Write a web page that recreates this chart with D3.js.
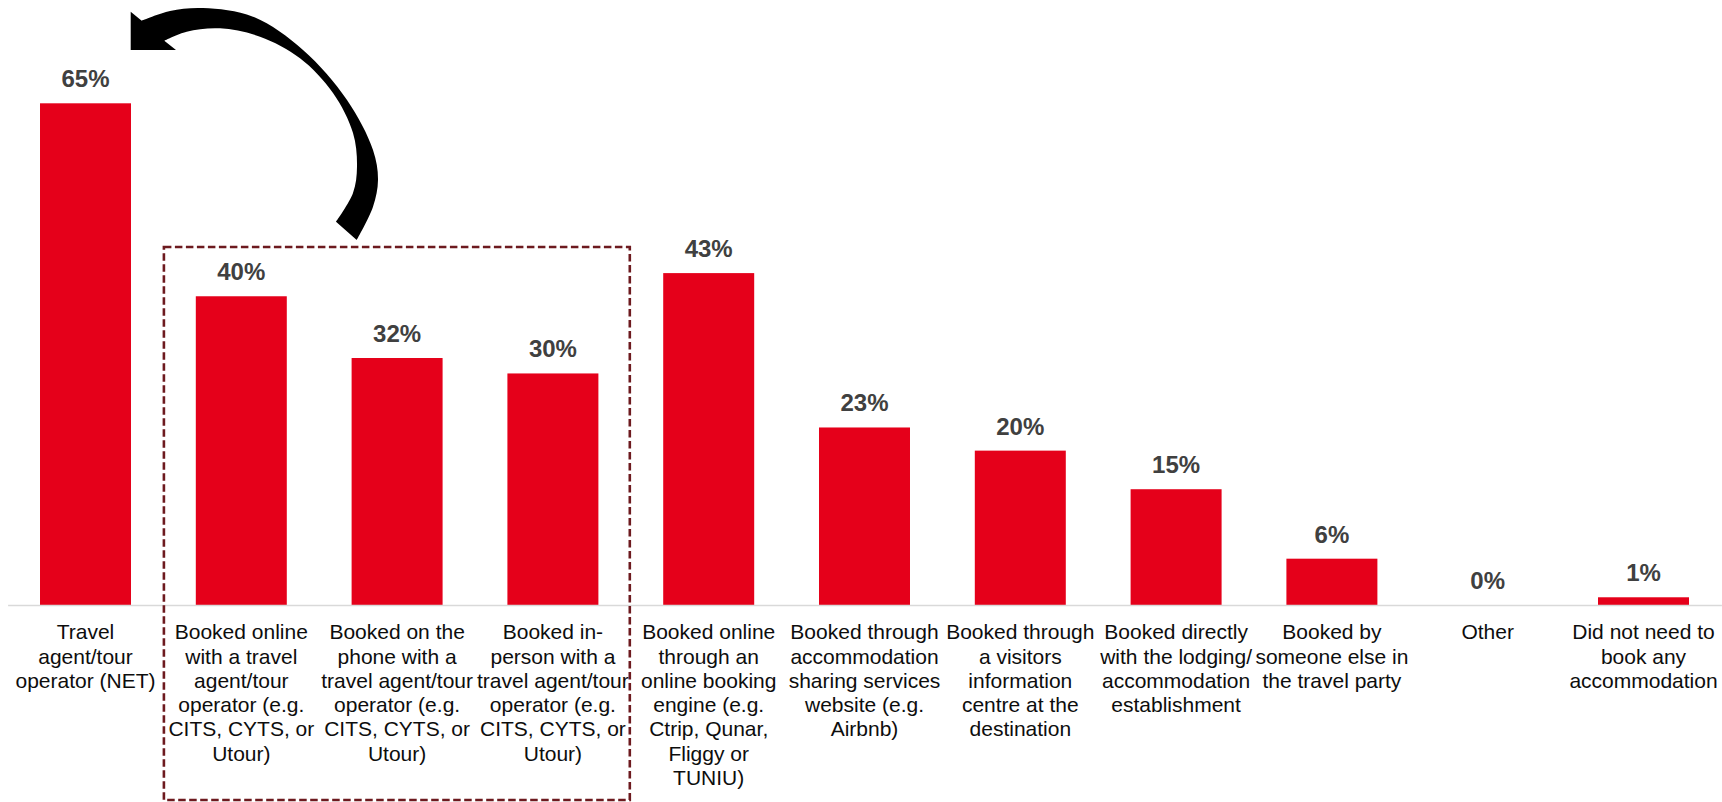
<!DOCTYPE html>
<html lang="en">
<head>
  <meta charset="UTF-8">
  <title>Accommodation booking</title>
  <style>
    body { margin: 0; background: #ffffff; }
    svg { display: block; font-family: "Liberation Sans", Arial, sans-serif; }
    .bar { fill: #e5001a; }
    .value { fill: #404040; font-weight: bold; font-size: 24px; }
    .cat { fill: #0d0d0d; font-size: 21px; }
  </style>
  <script type="text/javascript" src="https://d3js.org/d3.v7.min.js"></script>
</head>
<body>
<script type="text/javascript">

  var categories = [
    "Travel\nagent/tour\noperator (NET)",
    "Booked online\nwith a travel\nagent/tour\noperator (e.g.\nCITS, CYTS, or\nUtour)",
    "Booked on the\nphone with a\ntravel agent/tour\noperator (e.g.\nCITS, CYTS, or\nUtour)",
    "Booked in-\nperson with a\ntravel agent/tour\noperator (e.g.\nCITS, CYTS, or\nUtour)",
    "Booked online\nthrough an\nonline booking\nengine (e.g.\nCtrip, Qunar,\nFliggy or\nTUNIU)",
    "Booked through\naccommodation\nsharing services\nwebsite (e.g.\nAirbnb)",
    "Booked through\na visitors\ninformation\ncentre at the\ndestination",
    "Booked directly\nwith the lodging/\naccommodation\nestablishment",
    "Booked by\nsomeone else in\nthe travel party",
    "Other",
    "Did not need to\nbook any\naccommodation"
  ];

  var values = [65, 40, 32, 30, 43, 23, 20, 15, 6, 0, 1];

  // the three bars inside the dashed box
  var boxed = [1, 2, 3];

  var width = 1722, height = 802;
  var baseline = 605;

  var svg = d3.select("body")
    .append("svg")
    .attr("width", width)
    .attr("height", height);

  var x = d3.scaleBand()
    .domain(d3.range(categories.length))
    .range([7.6, 1721.4])
    .paddingInner(0.416)
    .paddingOuter(0.208);

  var y = d3.scaleLinear()
    .domain([0, 65])
    .range([baseline, 103.3]);

  // bars
  svg.append("g").selectAll("rect")
    .data(values)
    .enter()
    .append("rect")
    .attr("class", "bar")
    .attr("x", function(d, i) { return x(i); })
    .attr("y", function(d) { return y(d); })
    .attr("width", x.bandwidth())
    .attr("height", function(d) { return baseline - y(d); });

  // value labels
  svg.append("g").selectAll("text")
    .data(values)
    .enter()
    .append("text")
    .attr("class", "value")
    .attr("text-anchor", "middle")
    .attr("x", function(d, i) { return x(i) + x.bandwidth() / 2; })
    .attr("y", function(d) { return y(d) - 16; })
    .text(function(d) { return d + "%"; });

  // axis line
  var axis = svg.append("g")
    .attr("transform", "translate(0," + baseline + ")")
    .call(d3.axisBottom(x).tickSize(0).tickFormat(""));
  axis.select(".domain")
    .attr("stroke", "#d9d9d9")
    .attr("stroke-width", 1.5);

  // category labels
  var cats = svg.append("g").selectAll("text")
    .data(categories)
    .enter()
    .append("text")
    .attr("class", "cat")
    .attr("text-anchor", "middle")
    .attr("transform", function(d, i) {
      return "translate(" + (x(i) + x.bandwidth() / 2) + ",639.3)";
    });

  cats.selectAll("tspan")
    .data(function(d) { return d.split("\n"); })
    .enter()
    .append("tspan")
    .attr("x", 0)
    .attr("y", function(d, i) { return i * 24.3; })
    .text(function(d) { return d; });

  // dashed box round the three online / phone / in-person bars
  var step = x.step();
  var boxLeft = x(boxed[0]) - (step - x.bandwidth()) / 2 + 0.5;
  var boxRight = x(boxed[boxed.length - 1]) + x.bandwidth() + (step - x.bandwidth()) / 2 - 1;
  svg.append("rect")
    .attr("x", boxLeft)
    .attr("y", 247)
    .attr("width", boxRight - boxLeft)
    .attr("height", 800 - 247)
    .attr("fill", "none")
    .attr("stroke", "#6d1a1f")
    .attr("stroke-width", 2.6)
    .attr("stroke-dasharray", "7.5,3.5");

  // curved arrow from the box back to the NET bar
  var outer = [
    [356.7, 240], [373, 206.7], [378, 180], [373, 150], [347, 100],
    [303, 50], [253, 16.7], [203, 8], [170, 11], [141.7, 20.7]
  ];
  var inner = [
    [164.3, 40.7], [186.7, 31.7], [220, 28.3], [260, 36.7], [300, 58.3],
    [333, 93], [353, 133], [357, 166.7], [353, 193], [336, 221.7]
  ];
  var curve = d3.line().curve(d3.curveCatmullRom.alpha(0.5));
  var arrowPath = curve(outer) +
    "L130.7,11.7L130.7,50L176,50" +
    curve(inner).replace(/^M/, "L") + "Z";

  svg.append("path")
    .attr("d", arrowPath)
    .attr("fill", "#000000");

</script>
</body>
</html>
